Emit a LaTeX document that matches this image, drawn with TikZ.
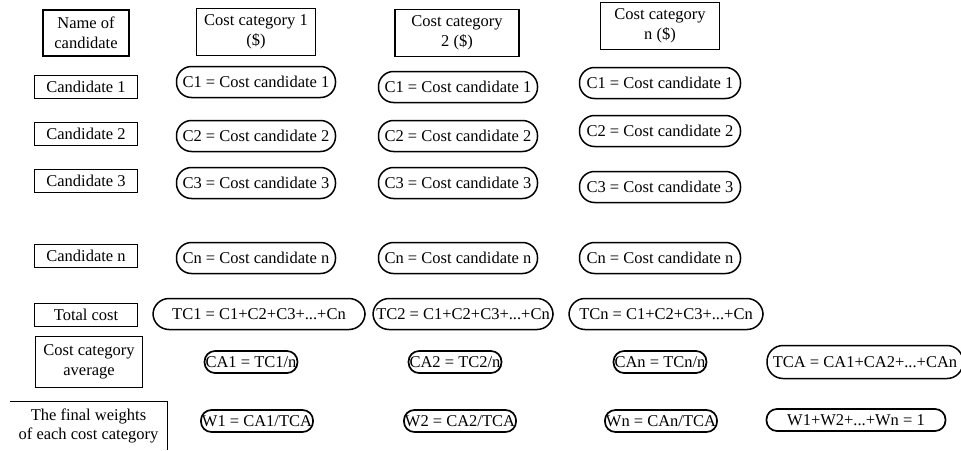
\documentclass[tikz,border=0pt]{standalone}
\usepackage{fontspec}
\setmainfont{Liberation Serif}
\tikzset{>=stealth}
\tikzset{
  headbox/.style={draw, line width=1.1pt, align=center, inner sep=1pt, minimum width=119pt, minimum height=47pt},
  rowbox/.style={draw, line width=1.1pt, inner sep=1pt, minimum width=103pt, minimum height=23pt},
  costpill/.style={draw, line width=1.5pt, rounded corners=15pt, inner sep=1pt, minimum width=159pt, minimum height=31pt},
  smallpill/.style={draw, line width=1.7pt, rounded corners=10.5pt, inner sep=1pt, minimum height=22pt}
}

\begin{document}
\begin{tikzpicture}[x=1pt,y=-1pt,font=\fontsize{16.5}{19.5}\selectfont]
\useasboundingbox (0,0) rectangle (961,450);
% header
\node[headbox, minimum width=86pt, minimum height=46pt] (hname) at (86,33) {Name of\\candidate};
\node[headbox] (hcat1) at (256,32) {Cost category 1\\(\$)};
\node[headbox, minimum width=124pt] (hcat2) at (457,33) {Cost category\\2 (\$)};
\node[headbox] (hcatn) at (660,26) {Cost category\\n (\$)};
% candidates
\foreach \r/\y/\ya/\yb/\yc in {1/87/82/87/83, 2/134/136/136/131, 3/181/183/183/187, n/256/258/258/258} {
  \node[rowbox] (cand\r) at (86,\y) {Candidate \r};
  \node[costpill] (c1\r) at (256,\ya) {C\r{} = Cost candidate \r};
  \node[costpill] (c2\r) at (458,\yb) {C\r{} = Cost candidate \r};
  \node[costpill, minimum width=161pt] (cn\r) at (660,\yc) {C\r{} = Cost candidate \r};
}
% totals
\node[rowbox] (total) at (86,315) {Total cost};
\node[costpill, minimum width=212pt, rounded corners=16pt] (tc1) at (259,314) {TC1 = C1+C2+C3+...+Cn};
\node[costpill, minimum width=180pt, rounded corners=16pt] (tc2) at (463,314) {TC2 = C1+C2+C3+...+Cn};
\node[costpill, minimum width=194pt, rounded corners=16pt] (tcn) at (666,314) {TCn = C1+C2+C3+...+Cn};
% averages
\node[rowbox, align=center, minimum width=107pt, minimum height=51pt] (avg) at (89,362) {Cost category\\average};
\node[smallpill] (ca1) at (251,362) {CA1 = TC1/n};
\node[smallpill] (ca2) at (455,362) {CA2 = TC2/n};
\node[smallpill] (can) at (660,362) {CAn = TCn/n};
\node[costpill, minimum width=196pt, minimum height=33pt, rounded corners=16pt] (tca) at (865,362) {TCA = CA1+CA2+...+CAn};
% weights
\node[align=center, inner sep=0pt, minimum width=157pt, minimum height=48pt] (fw) at (88.5,426) {The final weights\\of each cost category};
\draw[line width=1.1pt] (fw.north west) -- (fw.north east) -- (fw.south east);
\node[smallpill] (w1) at (257,421) {W1 = CA1/TCA};
\node[smallpill] (w2) at (460,421) {W2 = CA2/TCA};
\node[smallpill] (wn) at (661,421) {Wn = CAn/TCA};
\node[smallpill, minimum width=179pt] (wsum) at (856,420) {W1+W2+...+Wn = 1};
\end{tikzpicture}
\end{document}
